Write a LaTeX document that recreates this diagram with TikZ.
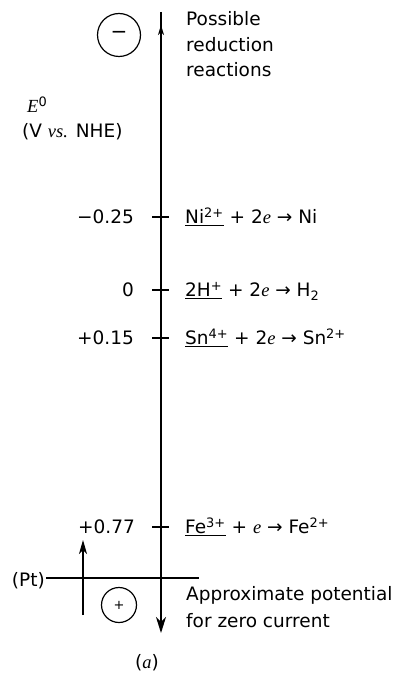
\documentclass[tikz,border=0pt]{standalone}
\usepackage{fontspec}
\setmainfont{DejaVu Sans}
\newfontfamily\serifit{Liberation Serif}
\usetikzlibrary{arrows.meta}
\newcommand{\ee}{{\serifit\itshape e}}
\begin{document}
\begin{tikzpicture}[x=1pt,y=-1pt,
  font=\fontsize{18.5}{24}\selectfont,
  lbl/.style={inner sep=0pt},
  axisline/.style={line width=1.3pt},
  tickline/.style={line width=1.1pt},
  ringnode/.style={circle,draw,line width=1.2pt,inner sep=0pt}]
\useasboundingbox (0,0) rectangle (412,676);

% main axis
\coordinate (atop) at (161,12);
\coordinate (abot) at (161,633);
\coordinate (uparrA) at (161,40);
\coordinate (uparrB) at (161,25);
\draw[axisline,-{Stealth[length=16pt,width=10pt,inset=5pt]}] (atop) -- (abot);
\draw[axisline,-{Stealth[length=10pt,width=6pt,inset=3pt]}] (uparrA) -- (uparrB);

% circles
\node[ringnode,minimum size=43pt] (neg) at (119,35) {\fontsize{20}{20}\selectfont −};
\node[ringnode,minimum size=35pt] (pos) at (119,605) {\fontsize{13}{13}\selectfont +};

% top labels
\node[lbl,anchor=base west] (p1) at (186,26) {Possible};
\node[lbl,anchor=base west] (p2) at (186,52) {reduction};
\node[lbl,anchor=base west] (p3) at (186,77) {reactions};

\node[lbl,anchor=base west] (E0) at (27,113) {{\serifit\itshape E}\textsuperscript{0}};
\node[lbl,anchor=base west] (vnhe) at (22,138) {(V {\serifit\itshape vs.} NHE)};

% ticks
\foreach \nm/\yy in {tNi/217,tH/290,tSn/338,tFe/527}{
  \coordinate (\nm L) at (152,\yy);
  \coordinate (\nm R) at (169,\yy);
  \draw[tickline] (\nm L) -- (\nm R);
}

% potentials
\node[lbl,anchor=base east] (vNi) at (134,223.5) {−0.25};
\node[lbl,anchor=base east] (vH) at (134,296.5) {0};
\node[lbl,anchor=base east] (vSn) at (134,344.5) {+0.15};
\node[lbl,anchor=base east] (vFe) at (135,533.5) {+0.77};

% reactions
\node[lbl,anchor=base west] (rNi) at (185,223.5) {\underline{Ni\textsuperscript{2+}} + 2\ee{} → Ni};
\node[lbl,anchor=base west] (rH) at (185,296.5) {\underline{2H\textsuperscript{+}} + 2\ee{} → H\textsubscript{2}};
\node[lbl,anchor=base west] (rSn) at (185,344.5) {\underline{Sn\textsuperscript{4+}} + 2\ee{} → Sn\textsuperscript{2+}};
\node[lbl,anchor=base west] (rFe) at (185,533.5) {\underline{Fe\textsuperscript{3+}} + \ee{} → Fe\textsuperscript{2+}};

% Pt line and small arrow
\node[lbl,anchor=east] (pt) at (45,581) {(Pt)};
\coordinate (ptL) at (46,578);
\coordinate (ptR) at (199,578);
\draw[line width=1.1pt] (ptL) -- (ptR);
\coordinate (smA) at (83,615);
\coordinate (smB) at (83,540);
\draw[line width=1.1pt,-{Stealth[length=14pt,width=8pt,inset=4pt]}] (smA) -- (smB);

% bottom labels
\node[lbl,anchor=base west] (ap1) at (186,600) {Approximate potential};
\node[lbl,anchor=base west] (ap2) at (186,627) {for zero current};
\node[lbl,anchor=base] (cap) at (147,668) {({\serifit\itshape a})};
\end{tikzpicture}
\end{document}
